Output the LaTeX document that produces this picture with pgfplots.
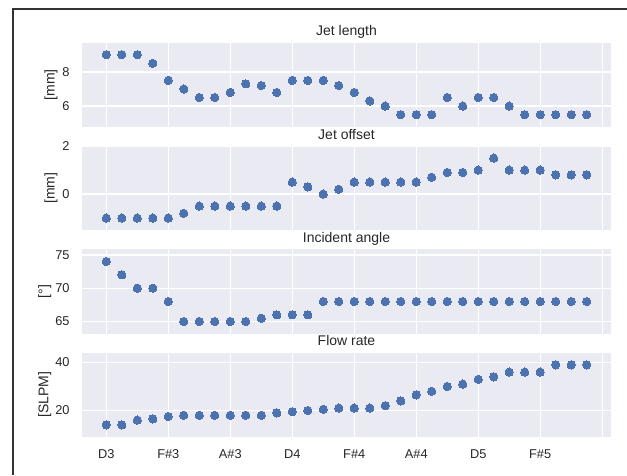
\documentclass[border=0pt]{standalone}
\usepackage{pgfplots}
\usepackage{pgfplotstable}
\usepackage{fontspec}
\setmainfont{Liberation Sans}
\pgfplotsset{compat=1.18}

\definecolor{sbblue}{HTML}{4C72B0}
\definecolor{sbbg}{HTML}{EAEAF2}
\definecolor{sbtext}{HTML}{262626}

% note (MIDI number), jet length [mm], jet offset [mm], incident angle [deg], flow rate [SLPM]
\pgfplotstableread{
note len  off  ang   flow
50   9.0  -1.0 74.0  14.0
51   9.0  -1.0 72.0  14.0
52   9.0  -1.0 70.0  16.0
53   8.5  -1.0 70.0  16.5
54   7.5  -1.0 68.0  17.5
55   7.0  -0.8 65.0  18.0
56   6.5  -0.5 65.0  18.0
57   6.5  -0.5 65.0  18.0
58   6.8  -0.5 65.0  18.0
59   7.3  -0.5 65.0  18.0
60   7.2  -0.5 65.5  18.0
61   6.8  -0.5 66.0  19.0
62   7.5   0.5 66.0  19.5
63   7.5   0.3 66.0  20.0
64   7.5   0.0 68.0  20.5
65   7.2   0.2 68.0  21.0
66   6.8   0.5 68.0  21.0
67   6.3   0.5 68.0  21.0
68   6.0   0.5 68.0  22.0
69   5.5   0.5 68.0  24.0
70   5.5   0.5 68.0  26.5
71   5.5   0.7 68.0  28.0
72   6.5   0.9 68.0  30.0
73   6.0   0.9 68.0  31.0
74   6.5   1.0 68.0  33.0
75   6.5   1.5 68.0  34.0
76   6.0   1.0 68.0  36.0
77   5.5   1.0 68.0  36.0
78   5.5   1.0 68.0  36.0
79   5.5   0.8 68.0  39.0
80   5.5   0.8 68.0  39.0
81   5.5   0.8 68.0  39.0
}\notes

\pgfplotsset{
  sbpanel/.style={
    scale only axis,
    width=396.3pt, height=63pt,
    xmin=48.45, xmax=82.55,
    xtick={50,54,...,82},
    xticklabels={},
    axis background/.style={fill=sbbg},
    axis line style={draw=none},
    major tick length=0pt,
    grid=major,
    grid style={white, line width=1pt},
    /pgf/number format/assume math mode=true,
    ticklabel style={font=\fontsize{9.6}{11}\selectfont, text=sbtext},
    yticklabel style={xshift=-6pt},
    xticklabel style={yshift=-6.3pt},
    label style={font=\fontsize{10.5}{12}\selectfont, text=sbtext},
    every axis title shift=0pt,
    title style={font=\fontsize{10.5}{12}\selectfont, text=sbtext,
                 at={(axis description cs:0.5,1)}, anchor=base, yshift=5.3pt},
    anchor=north west,
  },
  sbdots/.style={only marks, mark=*, mark size=3.1pt,
                 mark options={fill=sbblue, draw=sbblue, line width=0pt}},
}

\begin{document}
\begin{tikzpicture}
\useasboundingbox (0,0) rectangle (470.25pt,356.25pt);
\draw[black!80, line width=1pt] (9.75pt,0pt) -- (9.75pt,349.5pt) -- (470.25pt,349.5pt);

\begin{axis}[sbpanel, at={(61.725pt,324.225pt)},
  title={Jet length}, ylabel={[mm]},
  ylabel style={at={(axis description cs:-0.059,0.5)}, anchor=center},
  ymin=4.8, ymax=9.7, ytick={6,8}]
\addplot[sbdots] table[x=note, y=len] {\notes};
\end{axis}

\begin{axis}[sbpanel, at={(61.725pt,246.675pt)},
  title={Jet offset}, ylabel={[mm]},
  ylabel style={at={(axis description cs:-0.059,0.5)}, anchor=center},
  ymin=-1.5, ymax=2.0, ytick={0,2}]
\addplot[sbdots] table[x=note, y=off] {\notes};
\end{axis}

\begin{axis}[sbpanel, at={(61.725pt,169.125pt)},
  title={Incident angle}, ylabel={[°]},
  ylabel style={at={(axis description cs:-0.071,0.5)}, anchor=center},
  ymin=63.2, ymax=75.8, ytick={65,70,75}]
\addplot[sbdots] table[x=note, y=ang] {\notes};
\end{axis}

\begin{axis}[sbpanel, at={(61.725pt,91.575pt)},
  title={Flow rate}, ylabel={[SLPM]},
  ylabel style={at={(axis description cs:-0.071,0.5)}, anchor=center},
  ymin=9, ymax=44, ytick={20,40},
  xticklabels={D3,F\#3,A\#3,D4,F\#4,A\#4,D5,F\#5,{}}]
\addplot[sbdots] table[x=note, y=flow] {\notes};
\end{axis}
\end{tikzpicture}
\end{document}
